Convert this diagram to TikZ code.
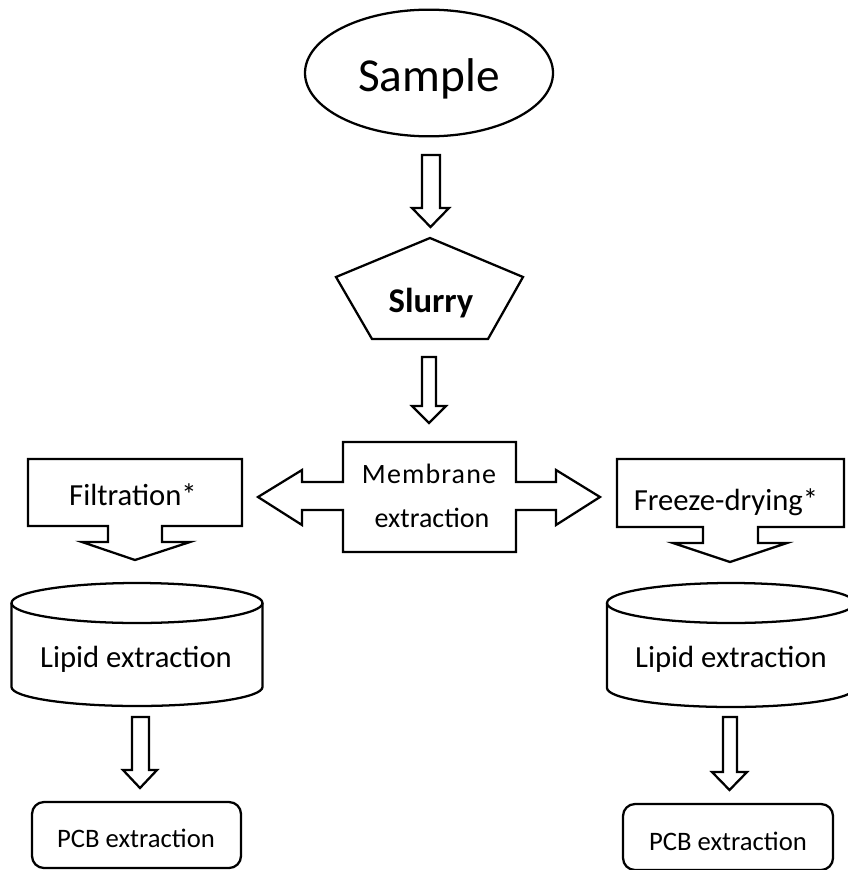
\documentclass[tikz,border=0pt]{standalone}
\usepackage{fontspec}
\setmainfont{Carlito}
\usetikzlibrary{shapes.geometric}
\tikzset{
  outline/.style={draw=black, line width=1.7pt, line join=miter, fill=white},
  lbl/.style={anchor=base, inner sep=0pt},
}
\newcommand{\downblk}[7]{% shaft left, shaft right, top, head base, head left, head right, tip y
  \draw[outline] (#1,#3) -- (#2,#3) -- (#2,#4) -- (#6,#4) -- ({(#5+#6)/2},#7) -- (#5,#4) -- (#1,#4) -- cycle;}
\begin{document}
\begin{tikzpicture}[x=0.75pt,y=-0.75pt]
\fill[white] (0,0) rectangle (847,870);
\useasboundingbox (0,0) rectangle (847,870);

% Sample
\node[ellipse, outline, minimum width=186pt, minimum height=95pt, inner sep=0pt] (sampleshape) at (429,73) {};
\node[lbl, font=\fontsize{35.5}{40}\selectfont] (sample) at (429,92) {Sample};

% arrow 1
\downblk{422}{440}{155}{208}{412}{449}{227}

% Slurry pentagon
\draw[outline] (430,238) -- (523,277) -- (488,339) -- (372,339) -- (336,277) -- cycle;
\node[lbl, font=\fontsize{26}{30}\selectfont\bfseries] (slurry) at (431,312) {Slurry};

% arrow 2
\downblk{422}{436}{357}{406}{412}{446}{423}

% Membrane with double block arrow
\draw[outline] (343,442) -- (516,442) -- (516,482) -- (556,482) -- (556,470) -- (600,497) -- (556,525) -- (556,510) -- (516,510) -- (516,552) -- (343,552) -- (343,510) -- (302,510) -- (302,525) -- (258,497) -- (302,470) -- (302,482) -- (343,482) -- cycle;
\node[lbl, font=\fontsize{21}{25}\selectfont, text width=140pt, align=center] (membrane1) at (429,483) {\addfontfeatures{LetterSpace=4}Membrane};
\node[lbl, font=\fontsize{21}{25}\selectfont] (membrane2) at (432,527) {extraction};

% Filtration callout
\draw[outline] (28,459) -- (242,459) -- (242,526) -- (162,526) -- (162,542) -- (190,542) -- (135,560) -- (82,542) -- (108,542) -- (108,526) -- (28,526) -- cycle;
\node[lbl, font=\fontsize{23}{27}\selectfont] (filtration) at (133,505) {Filtration*};

% Freeze-drying callout
\draw[outline] (617,459) -- (844,459) -- (844,527) -- (758,527) -- (758,543) -- (787,543) -- (730,562) -- (673,543) -- (703,543) -- (703,527) -- (617,527) -- cycle;
\node[lbl, font=\fontsize{23}{27}\selectfont] (freeze) at (726,510) {Freeze-drying*};

% Left cylinder
\draw[outline] (11.5,603) -- (11.5,687) arc[start angle=180, end angle=360, x radius=125.5, y radius=-19] -- (262.5,603);
\draw[outline] (137,603) ellipse[x radius=125.5, y radius=-20];
\node[lbl, font=\fontsize{23}{27}\selectfont] (lipidL) at (136,667) {Lipid extraction};

% Right cylinder
\draw[outline] (607,603) -- (607,688) arc[start angle=180, end angle=360, x radius=124, y radius=-19] -- (855,603);
\draw[outline] (731,603) ellipse[x radius=124, y radius=-20];
\node[lbl, font=\fontsize{23}{27}\selectfont] (lipidR) at (731,667) {Lipid extraction};

% arrows 3,4
\downblk{132}{149}{717}{770}{123}{157}{788}
\downblk{723}{737}{717}{772}{712}{747}{790}

% PCB boxes
\draw[outline, rounded corners=9pt] (32,802) rectangle (241,868);
\node[lbl, font=\fontsize{20}{24}\selectfont] (pcbL) at (136,847) {PCB extraction};
\draw[outline, rounded corners=9pt] (623,804) rectangle (833,870);
\node[lbl, font=\fontsize{20}{24}\selectfont] (pcbR) at (728,850) {PCB extraction};
\end{tikzpicture}
\end{document}
